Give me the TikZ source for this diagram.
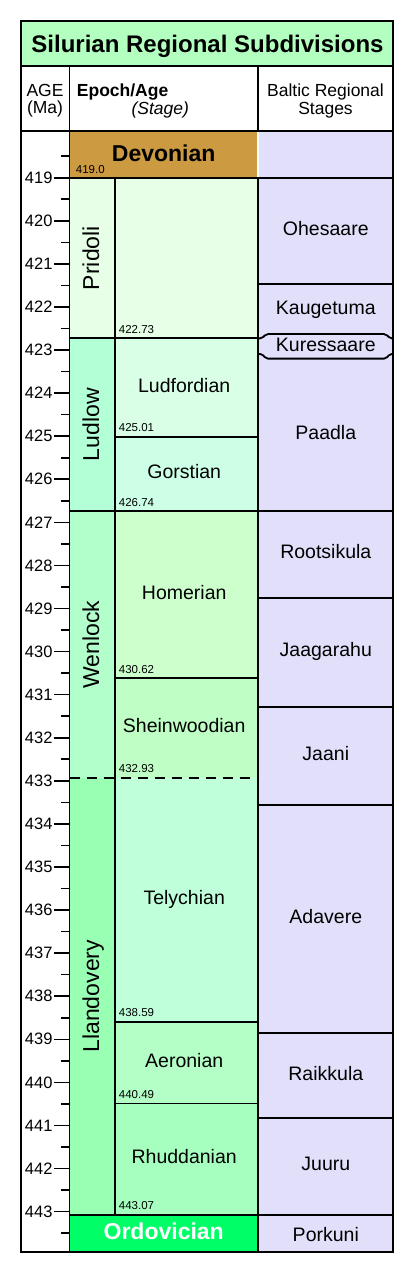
\documentclass[tikz,border=0pt]{standalone}
\usepackage{fontspec}
\setmainfont{Liberation Sans}
\usepackage{tikz}
\definecolor{titlegreen}{HTML}{B3FFC0}
\definecolor{devonian}{HTML}{CC9A40}
\definecolor{ordovician}{HTML}{00FF66}
\definecolor{baltic}{HTML}{E1DFFA}
\definecolor{pridoli}{HTML}{E6FFE6}
\definecolor{ludlow}{HTML}{B3FFD6}
\definecolor{wenlock}{HTML}{B3FFCC}
\definecolor{llandovery}{HTML}{99FFB3}
\definecolor{ludfordian}{HTML}{D9FFE6}
\definecolor{gorstian}{HTML}{CCFFE6}
\definecolor{homerian}{HTML}{CCFFCC}
\definecolor{sheinwoodian}{HTML}{BFFFC6}
\definecolor{telychian}{HTML}{BFFFD9}
\definecolor{aeronian}{HTML}{B3FFC6}
\definecolor{rhuddanian}{HTML}{A6FFBF}
\newcommand{\hdrfont}{\fontsize{17.5}{19}\selectfont}
\newcommand{\lblfont}{\fontsize{19.5}{21}\selectfont}
\tikzset{
  bline/.style={line width=1.8pt},
  outerline/.style={line width=2.4pt},
  tickline/.style={line width=1.6pt},
  hdr/.style={font=\hdrfont, inner sep=0pt, anchor=base},
  lbl/.style={font=\lblfont, inner sep=0pt, anchor=base},
  boldlbl/.style={font=\fontsize{23}{25}\selectfont\bfseries, inner sep=0pt, anchor=base},
  epochlbl/.style={font=\fontsize{23}{25}\selectfont, inner sep=0pt, anchor=base, rotate=90},
  bnd/.style={font=\fontsize{11.5}{13}\selectfont, inner sep=0pt, anchor=base west},
  agelbl/.style={font=\fontsize{16.5}{18}\selectfont, inner sep=0pt, anchor=east}
}

\begin{document}
\begin{tikzpicture}[x=1pt,y=-1pt]
  \useasboundingbox (0,0) rectangle (418,1272);
  % title and column heads
  \fill[titlegreen] (21,21) rectangle (393,66);
  \node[font=\fontsize{24}{26}\selectfont\bfseries, inner sep=0pt, anchor=base] (title) at (207.5,52.3) {Silurian Regional Subdivisions};
  \node[hdr] (agetop) at (45,96.7) {AGE};
  \node[hdr] (agebot) at (45,113.3) {(Ma)};
  \node[hdr, anchor=base west, font=\hdrfont\bfseries] (epochhd) at (76.7,96) {Epoch/Age};
  \node[hdr, font=\hdrfont\itshape] (stagehd) at (160.3,114) {(Stage)};
  \node[hdr] (baltictop) at (325.5,96) {Baltic Regional};
  \node[hdr] (balticbot) at (325.5,114.5) {Stages};
  \fill[devonian] (69.5,131) rectangle (257,177.7);
  \fill[baltic] (259,131) rectangle (393,1252);

  \begin{scope}[yshift=-177.7pt, y=-43.08pt]
    % epochs and stages
    \foreach \nm/\ta/\tb/\txt in {pridoli/419/422.73/Pridoli, ludlow/422.73/426.74/Ludlow,
        wenlock/426.74/432.93/Wenlock, llandovery/432.93/443.07/Llandovery}{
      \fill[\nm] (69.5,\ta-419) rectangle (115,\tb-419);
    }
    \fill[pridoli] (115,0) rectangle (258,3.73);
    \foreach \nm/\ta/\tb/\txt in {ludfordian/422.73/425.01/Ludfordian, gorstian/425.01/426.74/Gorstian,
        homerian/426.74/430.62/Homerian, sheinwoodian/430.62/432.93/Sheinwoodian,
        telychian/432.93/438.59/Telychian, aeronian/438.59/440.49/Aeronian,
        rhuddanian/440.49/443.07/Rhuddanian}{
      \fill[\nm] (115,\ta-419) rectangle (258,\tb-419);
      \node[lbl, yshift=-4.5pt] (\nm) at (184.2,{(\ta+\tb)/2-419}) {\txt};
    }
    \fill[ordovician] (69.5,24.07) rectangle (257,24.94);

    % boundaries
    \foreach \a in {419,426.74,443.07} \draw[bline] (69.5,\a-419) -- (393,\a-419);
    \draw[bline] (69.5,3.73) -- (258,3.73);
    \foreach \a in {425.01,430.62,438.59,440.49} \draw[bline] (115,\a-419) -- (258,\a-419);
    \foreach \a in {421.47,428.75,431.28,433.56,438.85,440.83} \draw[bline] (258,\a-419) -- (393,\a-419);
    \draw[bline, dash pattern=on 10pt off 7pt] (69.5,13.93) -- (258,13.93);
    \draw[bline] (115,0) -- (115,24.07);
    \draw[bline, rounded corners=2pt] (258,3.73) -- (262,3.73) -- (266,3.63) -- (386,3.63) -- (390,3.73) -- (393,3.73);
    \draw[bline, rounded corners=2pt] (258,4.09) -- (262,4.09) -- (266,4.2) -- (386,4.2) -- (390,4.09) -- (393,4.09);

    % age scale
    \foreach \a in {419,...,443}{
      \draw[tickline] (54.3,\a-419) -- (69.5,\a-419);
      \node[agelbl] (age\a) at (52.7,\a-419) {\a};
    }
    \foreach \i in {0,...,25} \draw[tickline] (61,\i-0.5) -- (69.5,\i-0.5);
    \foreach \a [count=\i] in {422.73,425.01,426.74,430.62,432.93,438.59,440.49,443.07}
      \node[bnd, yshift=5pt] (bnd\i) at (118.7,\a-419) {\a};

    % epoch names
    \foreach \nm/\ta/\tb/\txt in {pridoli/419/422.73/Pridoli, ludlow/422.73/426.74/Ludlow,
        wenlock/426.74/432.93/Wenlock, llandovery/432.93/443.07/Llandovery}
      \node[epochlbl] (\nm) at (99,{(\ta+\tb)/2-419}) {\txt};

    % baltic regional stages
    \foreach \nm/\ta/\tb/\txt in {ohesaare/419/421.47/Ohesaare, kaugetuma/421.47/422.68/Kaugetuma,
        paadla/423.2/426.74/Paadla, rootsikula/426.74/428.75/Rootsikula,
        jaagarahu/428.75/431.28/Jaagarahu, jaani/431.28/433.56/Jaani,
        adavere/433.56/438.85/Adavere, raikkula/438.85/440.83/Raikkula, juuru/440.83/443.07/Juuru}
      \node[lbl, yshift=-4.5pt] (\nm) at (325.8,{(\ta+\tb)/2-419}) {\txt};
    \node[lbl, yshift=-4.5pt] (kuressaare) at (325.8,3.93) {Kuressaare};
  \end{scope}

  \node[boldlbl] (devonianlbl) at (163.7,161.7) {Devonian};
  \node[bnd] (bnd0) at (75.7,173.5) {419.0};
  \node[boldlbl, text=white] (ordovicianlbl) at (163.7,1239.3) {Ordovician};
  \node[lbl] (porkuni) at (325.8,1241) {Porkuni};

  % frame
  \draw[bline] (69.5,66) -- (69.5,1252);
  \draw[bline] (258,66) -- (258,131);
  \draw[bline] (258,177.7) -- (258,1252);
  \draw[outerline] (21,66) -- (393,66);
  \draw[outerline] (21,131) -- (393,131);
  \draw[outerline] (21,21) rectangle (393,1252);
\end{tikzpicture}
\end{document}
